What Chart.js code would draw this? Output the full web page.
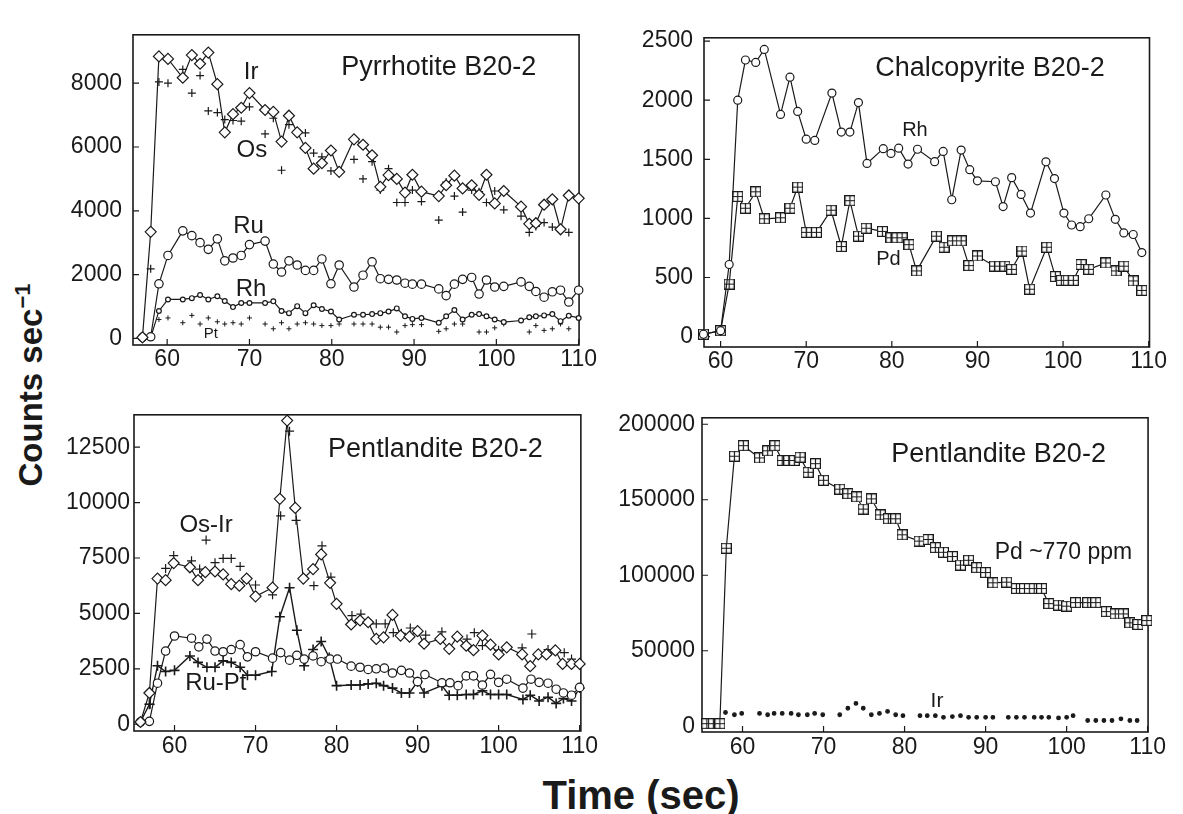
<!DOCTYPE html>
<html>
<head>
<meta charset="utf-8">
<script src="https://cdn.jsdelivr.net/npm/chart.js@4.4.1/dist/chart.umd.min.js"></script>
<style>
  html, body { margin: 0; padding: 0; background: #fff; }
  #wrap { position: relative; width: 1183px; height: 814px; overflow: hidden; font-family: "Liberation Sans", Arial, sans-serif; color: #1a1a1a; }
  #wrap canvas { position: absolute; }
  #ytitle { position: absolute; left: 30px; top: 385px; transform: translate(-50%, -50%) rotate(-90deg); font-weight: bold; font-size: 33px; white-space: nowrap; }
  #ytitle sup { font-size: 22px; }
  #xtitle { position: absolute; left: 641px; top: 795px; transform: translate(-50%, -50%); font-weight: bold; font-size: 40px; white-space: nowrap; }
</style>
</head>
<body>
<div id="wrap">
  <div id="ytitle">Counts sec<sup>−1</sup></div>
  <div id="xtitle">Time (sec)</div>
</div>
<script>
// ---- data ----
const xTicks = [60, 70, 80, 90, 100, 110];

// Pyrrhotite B20-2
const pyrTime = [57, 58, 59, 60.1, 61.9, 63, 64, 65, 66.1, 67, 68, 69, 70, 71.9, 72.9, 73.9, 74.8, 75.8, 76.8, 77.8, 78.8, 79.9, 80.9, 82.7, 83.8, 84.9, 85.9, 86.9, 87.9, 88.9, 89.8, 90.9, 93, 93.9, 94.9, 95.9, 97, 97.9, 98.8, 99.8, 100.9, 103, 104, 104.8, 105.8, 106.8, 107.8, 108.8, 110];
const pyrIr = [30, 3340, 8840, 8760, 8170, 8880, 8610, 8960, 7970, 6460, 7030, 7230, 7690, 7160, 7100, 6170, 6980, 6460, 5970, 5320, 5490, 5890, 5220, 6240, 6070, 5740, 4750, 5120, 5000, 4570, 5130, 4600, 4460, 4800, 5100, 4700, 4800, 4500, 5130, 4230, 4620, 4130, 3590, 3610, 4190, 4360, 3420, 4480, 4390];
const pyrOs = [null, 2180, 8040, 8000, 8430, 7690, 8240, 7130, 7080, 6860, 6830, 6810, 7260, 6410, 6900, 5270, 6700, 6500, 6440, 5810, 5690, 5250, 5280, 5610, 5000, 5540, 4650, 5320, 4260, 4260, 4650, 4290, 3710, 4900, 4460, 3960, 4650, 4600, 4260, 4620, 4030, 3830, 3320, 3510, 3630, 3490, 3400, 3320, null];
const pyrRu = [30, 50, 1710, 2600, 3370, 3220, 3000, 2790, 3120, 2430, 2520, 2600, 2940, 3050, 2330, 2080, 2430, 2300, 2130, 2130, 2490, 1710, 2300, 1610, 1980, 2400, 1870, 1850, 1830, 1730, 1700, 1700, 1550, 1340, 1700, 1850, 1910, 1390, 1830, 1610, 1630, 1770, 1630, 1470, 1290, 1460, 1510, 1140, 1510];
const pyrRh = [0, 30, 860, 1220, 1220, 1260, 1360, 1220, 1320, 1170, 980, 1110, 1110, 1110, 1160, 860, 790, 1010, 790, 1040, 920, 840, 590, 740, 740, 760, 790, 840, 940, 690, 610, 640, 490, 690, 890, 590, 740, 760, 690, 590, 510, 560, 660, 690, 720, 760, 540, 710, 640];
const pyrPt = [null, null, 590, 640, 490, 720, 450, 640, 520, 450, 490, 450, 640, 450, 300, 490, 300, 450, 490, 450, 400, 400, 450, 450, 450, 450, 350, 350, 200, 400, 430, 430, 220, 300, 450, 450, null, 200, 200, 330, 450, null, 200, 400, 250, 300, 450, 300, null];
const pyrYTicks = [0, 2000, 4000, 6000, 8000];

// Chalcopyrite B20-2
const cpRhTime = [58, 60, 61, 62, 62.9, 64.1, 65.1, 67, 68.1, 69, 70, 71, 73, 74.1, 75.1, 76.1, 77.1, 79, 79.9, 80.8, 81.9, 83, 85, 86, 87, 88.1, 89.1, 90, 92.1, 93, 94, 95.1, 96.2, 98, 99, 100.1, 101, 102, 103, 105, 106.1, 107.1, 108.2, 109.2];
const cpRh = [20, 50, 610, 2000, 2340, 2320, 2430, 1880, 2195, 1905, 1670, 1660, 2060, 1730, 1730, 1980, 1465, 1590, 1550, 1594, 1460, 1585, 1480, 1567, 1158, 1578, 1412, 1318, 1310, 1100, 1345, 1203, 1045, 1479, 1337, 1045, 944, 930, 997, 1198, 992, 877, 864, 711];
const cpPdTime = [58, 60, 61, 62, 62.9, 64.1, 65.1, 67, 68.1, 69, 70, 70.6, 71.2, 72.9, 74.1, 75.1, 76.1, 77, 78.9, 79.9, 80.6, 81.2, 82, 82.9, 85.2, 86.1, 87.1, 88.1, 89, 90, 92, 92.6, 93.2, 94, 95.2, 96.1, 98.1, 99.1, 99.8, 100.6, 101.2, 102.1, 103, 105, 106.2, 107.1, 108.2, 109.2];
const cpPd = [20, 50, 444, 1185, 1086, 1225, 997, 1005, 1086, 1265, 882, 882, 882, 1069, 762, 1150, 850, 917, 890, 836, 836, 836, 778, 556, 850, 756, 810, 810, 601, 682, 596, 596, 596, 569, 724, 401, 756, 508, 476, 476, 476, 610, 569, 623, 556, 596, 471, 391];
const cpYTicks = [0, 500, 1000, 1500, 2000, 2500];

// Pentlandite B20-2 (Os-Ir, Ru-Pt)
const pnIrTime = [55.8, 56.9, 57.9, 58.9, 59.9, 61.9, 62.9, 63.8, 65, 66, 67, 68, 68.9, 70, 72.1, 73, 73.9, 74.9, 75.9, 77.1, 78.1, 79.2, 80, 81.8, 82.9, 83.9, 84.9, 85.8, 86.9, 87.9, 89, 90, 90.8, 92.8, 93.9, 94.9, 96, 96.9, 98, 99, 100, 101, 102.9, 103.9, 104.9, 105.9, 107, 107.9, 109, 110];
const pnIr = [100, 1410, 6570, 6500, 7270, 7080, 6500, 6860, 6890, 6760, 6320, 6250, 6570, 5770, 6160, 10170, 13700, 9760, 6570, 7000, 7660, 6380, 5430, 4500, 4680, 4600, 3850, 3920, 4930, 4000, 3950, 4200, 3630, 3850, 3400, 3950, 3540, 3340, 4000, 3590, 3150, 3470, 3150, 2620, 3150, 3150, 3330, 2720, 2720, 2720];
const pnOsTime = [57, 58.9, 59.9, 62.1, 63.1, 63.9, 65, 66, 67, 68.1, 70, 72.1, 73.1, 74.2, 75, 77.2, 78.2, 79.3, 81.9, 83, 84.9, 86, 87, 88, 89.1, 91, 93, 96.1, 97, 98, 100, 102.9, 104.1, 106.1, 108.1, 109];
const pnOs = [900, 7030, 7610, 7370, 7000, 8310, 7290, 7480, 7480, 7120, 6280, 5840, 9400, 13220, 9200, 6250, 8050, 6640, 4900, 4970, 4530, 4530, 4130, 4100, 4340, 4020, 4170, 3840, 4130, 3550, 3340, 3440, 4070, 3370, 3230, 2940];
const pnRuTime = [55.8, 56.9, 57.9, 58.9, 60, 62.1, 63, 64, 65, 66, 67, 68.1, 69, 70, 72.1, 73.1, 74.2, 75.1, 76, 77.1, 78.1, 79.2, 80.1, 81.8, 82.9, 83.9, 84.9, 85.9, 86.9, 88, 89, 90, 90.9, 93, 94, 95, 96, 96.9, 98, 99, 100, 101, 103, 104, 105, 106.1, 107.1, 108, 109, 110];
const pnRu = [100, 130, 1850, 3300, 3980, 3880, 3490, 3840, 3300, 3270, 3370, 3590, 3040, 3270, 2980, 3230, 2890, 3110, 2940, 3080, 2820, 2940, 2940, 2620, 2570, 2470, 2500, 2530, 2310, 2430, 2310, 1920, 2240, 1870, 1870, 1740, 2180, 2180, 1770, 2250, 1890, 2030, 1630, 2030, 1890, 1850, 1580, 1410, 1310, 1660];
const pnPtTime = [55.8, 56.9, 57.9, 58.9, 60, 61.9, 62.9, 64, 65, 66, 67, 68.1, 69, 70, 72, 73, 74.2, 75.1, 76, 77.1, 78.1, 79.1, 80, 81.8, 82.9, 83.9, 84.9, 85.8, 86.9, 88, 89, 90, 90.8, 93, 93.9, 94.9, 96, 96.9, 98, 99, 100, 101, 103, 103.9, 105, 106.1, 107.1, 108, 109, 110];
const pnPt = [100, 900, 2640, 2380, 2430, 3080, 2790, 2570, 2570, 2860, 2790, 2570, 2210, 2210, 2380, 4850, 6160, 4240, 2640, 3370, 3730, 3010, 1740, 1770, 1770, 1820, 1850, 1740, 1630, 1410, 1410, 1920, 1410, 1740, 1310, 1310, 1340, 1340, 1510, 1340, 1340, 1340, 1120, 1310, 1050, 1220, 940, 1160, 1050, 1630];
const pnYTicks = [0, 2500, 5000, 7500, 10000, 12500];

// Pentlandite B20-2 (Pd ~770 ppm)
const pdTime = [55.6, 56.4, 57.2, 58, 59, 60.1, 62.1, 63.1, 64, 64.9, 65.7, 66.4, 67.1, 68.1, 69, 70, 72, 73, 74.1, 74.9, 75.9, 77, 78, 78.9, 79.7, 81.8, 82.9, 83.8, 84.8, 85.9, 86.9, 87.9, 88.9, 90, 90.9, 92.6, 93.8, 94.8, 96, 96.9, 97.8, 99, 100, 101.1, 102.6, 103.6, 104.9, 106, 107, 107.8, 108.8, 109.9];
const pdVal = [1700, 1700, 1700, 117900, 178800, 185800, 177700, 182400, 185800, 176000, 176000, 176000, 178200, 168200, 173900, 162900, 157000, 154000, 151900, 143800, 150600, 140000, 137400, 137400, 126800, 122600, 123700, 118300, 115200, 112400, 106700, 109900, 105000, 101800, 95000, 95400, 91200, 91200, 91200, 91200, 81200, 80200, 79500, 81900, 81900, 81900, 75900, 74400, 74400, 68500, 67400, 70000];
const pdIrTime = [57.9, 59, 59.9, 62.1, 63.1, 63.9, 64.9, 66, 66.9, 68, 68.9, 69.9, 72, 73, 74, 74.9, 75.9, 76.9, 77.9, 78.9, 79.8, 81.9, 82.8, 83.8, 84.8, 85.9, 86.9, 87.9, 88.9, 90, 90.9, 92.8, 93.8, 94.8, 96, 96.9, 97.8, 99, 100, 100.8, 102.6, 103.6, 104.6, 105.6, 106.7, 107.8, 108.7];
const pdIr = [9100, 7600, 8500, 8500, 7600, 8500, 8500, 8500, 7600, 7600, 8500, 7600, 7600, 11900, 15100, 11900, 7600, 8500, 9800, 7600, 7000, 7000, 7000, 7000, 5900, 6400, 7000, 5900, 5900, 5900, 5900, 5900, 5900, 5900, 5900, 5900, 5900, 5500, 5900, 7000, 3800, 3800, 3800, 3800, 4900, 3800, 3800];
const pdYTicks = [0, 50000, 100000, 150000, 200000];

// ---- helpers ----
const INK = '#1a1a1a';
const FONT = '"Liberation Sans", Arial, Helvetica, sans-serif';
const LEFT = 115, PADT = 8, PADR = 8, BOTTOM = 40;

function pts(xs, ys) {
  return xs.map((x, i) => ({ x: x, y: ys[i] })).filter(p => p.y !== null);
}

// square with a cross inside, white filled
function boxPlus(size) {
  const c = document.createElement('canvas');
  c.width = size; c.height = size;
  const g = c.getContext('2d');
  g.fillStyle = '#fff';
  g.fillRect(0, 0, size, size);
  g.strokeStyle = INK;
  g.lineWidth = 1.2;
  g.strokeRect(0.6, 0.6, size - 1.2, size - 1.2);
  g.beginPath();
  g.moveTo(size / 2, 1); g.lineTo(size / 2, size - 1);
  g.moveTo(1, size / 2); g.lineTo(size - 1, size / 2);
  g.stroke();
  return c;
}
const boxImg = boxPlus(11);

function series(data, style, radius, line, extra) {
  return Object.assign({
    data: data,
    showLine: line,
    pointStyle: style,
    pointRadius: radius,
    borderColor: INK,
    backgroundColor: '#fff',
    borderWidth: 1.2,
    pointBorderWidth: 1.2,
    clip: 10
  }, extra || {});
}

const framePlugin = {
  id: 'frame',
  beforeDatasetsDraw(chart) {
    const { ctx, chartArea: a, scales } = chart;
    ctx.save();
    ctx.strokeStyle = INK;
    ctx.lineWidth = 1.6;
    ctx.strokeRect(a.left, a.top, a.right - a.left, a.bottom - a.top);
    ctx.lineWidth = 1.2;
    ctx.beginPath();
    scales.x.ticks.forEach(t => {
      const px = scales.x.getPixelForValue(t.value);
      ctx.moveTo(px, a.bottom); ctx.lineTo(px, a.bottom - 6);
    });
    scales.y.ticks.forEach(t => {
      const py = scales.y.getPixelForValue(t.value);
      ctx.moveTo(a.left, py); ctx.lineTo(a.left + 6, py);
    });
    ctx.stroke();
    ctx.restore();
  }
};

const notesPlugin = {
  id: 'notes',
  afterDatasetsDraw(chart, args, opts) {
    const { ctx, scales } = chart;
    ctx.save();
    ctx.fillStyle = INK;
    ctx.textAlign = 'center';
    ctx.textBaseline = 'middle';
    (opts.items || []).forEach(n => {
      ctx.font = n.size + 'px ' + FONT;
      ctx.fillText(n.text, scales.x.getPixelForValue(n.x), scales.y.getPixelForValue(n.y));
    });
    ctx.restore();
  }
};

function panel(box, xr, yr, yTicks, yPad, xPad, datasets, notes) {
  const cv = document.createElement('canvas');
  const w = box.r - box.l + LEFT + PADR;
  const h = box.b - box.t + PADT + BOTTOM;
  cv.width = w; cv.height = h;
  cv.style.left = (box.l - LEFT) + 'px';
  cv.style.top = (box.t - PADT) + 'px';
  cv.style.width = w + 'px';
  cv.style.height = h + 'px';
  document.getElementById('wrap').appendChild(cv);

  new Chart(cv.getContext('2d'), {
    type: 'scatter',
    data: { datasets: datasets },
    options: {
      responsive: false,
      animation: false,
      devicePixelRatio: 1,
      layout: { padding: { top: PADT, right: PADR, left: 0, bottom: 0 } },
      plugins: {
        legend: { display: false },
        tooltip: { enabled: false },
        notes: { items: notes }
      },
      scales: {
        x: {
          type: 'linear', min: xr[0], max: xr[1],
          grid: { display: false, drawTicks: false },
          border: { display: false },
          afterBuildTicks: s => { s.ticks = xTicks.map(v => ({ value: v })); },
          afterFit: s => { s.height = BOTTOM; },
          ticks: { autoSkip: false, maxRotation: 0, padding: xPad, color: INK, font: { family: FONT, size: 23 }, callback: v => String(v) }
        },
        y: {
          type: 'linear', min: yr[0], max: yr[1],
          grid: { display: false, drawTicks: false },
          border: { display: false },
          afterBuildTicks: s => { s.ticks = yTicks.map(v => ({ value: v })); },
          afterFit: s => { s.width = LEFT; },
          ticks: { autoSkip: false, padding: yPad, color: INK, font: { family: FONT, size: 23 }, callback: v => String(v) }
        }
      }
    },
    plugins: [framePlugin, notesPlugin]
  });
}

// Pyrrhotite
panel({ l: 133, r: 590, t: 18, b: 345 }, [55.85, 110.05], [-208, 9517], pyrYTicks, 11, 1, [
  series(pts(pyrTime, pyrIr), 'rectRot', 5.5, true),
  series(pts(pyrTime, pyrOs), 'cross', 4, false),
  series(pts(pyrTime, pyrRu), 'circle', 4.2, true),
  series(pts(pyrTime, pyrRh), 'circle', 2.4, true),
  series(pts(pyrTime, pyrPt), 'cross', 2.5, false, { pointBorderWidth: 1 })
], [
  { text: 'Pyrrhotite B20-2', x: 93.0, y: 8480, size: 27 },
  { text: 'Ir', x: 70.2, y: 8333, size: 24 },
  { text: 'Os', x: 70.3, y: 5890, size: 24 },
  { text: 'Ru', x: 69.9, y: 3510, size: 24 },
  { text: 'Rh', x: 70.2, y: 1550, size: 24 },
  { text: 'Pt', x: 65.3, y: 150, size: 15 }
]);

// Chalcopyrite
panel({ l: 704, r: 1160, t: 21, b: 347 }, [58.06, 110.1], [-88, 2528], cpYTicks, 11, 1, [
  series(pts(cpRhTime, cpRh), 'circle', 4, true),
  series(pts(cpPdTime, cpPd), boxImg, 5.5, true)
], [
  { text: 'Chalcopyrite B20-2', x: 91.47, y: 2267, size: 27 },
  { text: 'Rh', x: 82.7, y: 1748, size: 20 },
  { text: 'Pd', x: 79.6, y: 650, size: 20 }
]);

// Pentlandite, Os-Ir / Ru-Pt
panel({ l: 134, r: 592, t: 405, b: 731 }, [55, 110.15], [-306, 13960], pnYTicks, 4, 2, [
  series(pts(pnIrTime, pnIr), 'rectRot', 5.5, true),
  series(pts(pnOsTime, pnOs), 'cross', 4.5, false),
  series(pts(pnRuTime, pnRu), 'circle', 4.2, true),
  series(pts(pnPtTime, pnPt), 'cross', 5, true, { pointBorderWidth: 1.6, borderWidth: 1.4 })
], [
  { text: 'Pentlandite B20-2', x: 92.2, y: 12380, size: 27 },
  { text: 'Os-Ir', x: 63.9, y: 8980, size: 24 },
  { text: 'Ru-Pt', x: 65.1, y: 1830, size: 24 }
]);

// Pentlandite, Pd
panel({ l: 702, r: 1160, t: 405, b: 732 }, [55, 110.05], [-3820, 204260], pdYTicks, 7, 2, [
  series(pts(pdTime, pdVal), boxImg, 5.5, true),
  series(pts(pdIrTime, pdIr), 'circle', 1.8, false, { backgroundColor: INK })
], [
  { text: 'Pentlandite B20-2', x: 91.6, y: 179900, size: 27 },
  { text: 'Pd ~770 ppm', x: 99.6, y: 115200, size: 23 },
  { text: 'Ir', x: 84.0, y: 16500, size: 21 }
]);
</script>
</body>
</html>
